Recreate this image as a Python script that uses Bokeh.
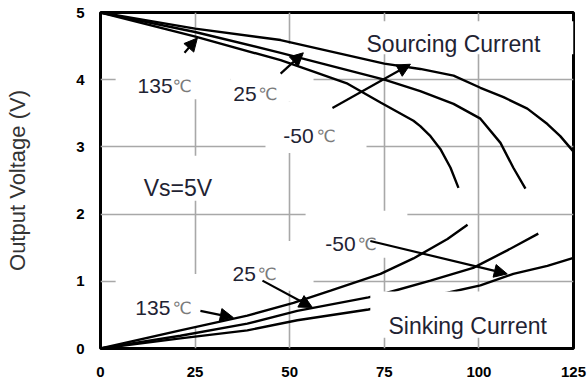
from bokeh.plotting import figure
from bokeh.models import Arrow, NormalHead, BoxAnnotation, Label, Range1d, FixedTicker
from bokeh.embed import file_html
from bokeh.resources import INLINE

# ---- data ----
x_ticks = [0, 25, 50, 75, 100, 125]
y_ticks = [0, 1, 2, 3, 4, 5]

# Sourcing current curves (output voltage high)
src_m50_x = [0, 25, 47.6, 75, 84.5, 93.3, 100.4, 106.5, 112.8, 118.1, 121.5, 125]
src_m50_y = [5.0, 4.76, 4.59, 4.24, 4.16, 4.06, 3.88, 3.74, 3.57, 3.34, 3.16, 2.93]
src_25_x = [0, 25, 47.6, 75, 84.5, 93.3, 100.4, 105.7, 109.1, 112.3]
src_25_y = [5.0, 4.71, 4.40, 4.00, 3.83, 3.64, 3.42, 3.06, 2.69, 2.38]
src_135_x = [0, 25.1, 47.6, 56.3, 65.3, 74, 82.7, 84.5, 87.2, 89.8, 92.5, 94.6]
src_135_y = [5.0, 4.64, 4.29, 4.12, 3.94, 3.66, 3.39, 3.31, 3.16, 2.97, 2.69, 2.39]

# Sinking current curves (output voltage low)
snk_135_x = [0, 21.1, 38.8, 51.0, 60.8, 74.0, 82.7, 91.7, 97.0]
snk_135_y = [0.0, 0.27, 0.49, 0.68, 0.86, 1.11, 1.34, 1.63, 1.84]
snk_25_x = [0, 21.1, 38.8, 52.0, 70.8, 75.8, 87.2, 98.5, 107.5, 115.7]
snk_25_y = [0.0, 0.19, 0.37, 0.56, 0.76, 0.83, 1.01, 1.20, 1.46, 1.71]
snk_m50_x = [0, 21.1, 38.8, 52.0, 70.8, 91.7, 100.4, 109.1, 118.1, 125]
snk_m50_y = [0.0, 0.15, 0.27, 0.42, 0.58, 0.83, 0.94, 1.11, 1.23, 1.35]

FONT = "Liberation Sans"

p = figure(width=587, height=381, output_backend="svg", toolbar_location=None,
           x_range=Range1d(0, 125), y_range=Range1d(0, 5),
           min_border_left=100, min_border_right=14, min_border_top=12, min_border_bottom=33)

p.outline_line_color = "black"
p.outline_line_width = 3
p.background_fill_color = "white"

for ax in (p.xaxis[0], p.yaxis[0]):
    ax.axis_line_color = None
    ax.major_tick_line_color = None
    ax.minor_tick_line_color = None
    ax.major_label_text_font = FONT
    ax.major_label_text_font_style = "bold"
    ax.major_label_text_font_size = "15px"
    ax.major_label_text_color = "black"

p.xaxis.ticker = FixedTicker(ticks=x_ticks)
p.yaxis.ticker = FixedTicker(ticks=y_ticks)
p.xaxis.major_label_standoff = 12
p.yaxis.major_label_standoff = 10

p.yaxis.axis_label = "Output Voltage (V)"
p.yaxis.axis_label_text_font = FONT
p.yaxis.axis_label_text_font_style = "normal"
p.yaxis.axis_label_text_font_size = "22px"
p.yaxis.axis_label_text_color = "#333333"
p.yaxis.axis_label_standoff = 43

p.xgrid.ticker = FixedTicker(ticks=[25, 50, 75, 100])
p.ygrid.ticker = FixedTicker(ticks=[1, 2, 3, 4])
for g in (p.xgrid[0], p.ygrid[0]):
    g.grid_line_color = "#a8a8a8"
    g.grid_line_width = 1.6

# white masks behind label areas (grid interrupted)
masks = [
    (4.0, 34.3, 3.71, 4.61),
    (34.3, 56.3, 3.68, 4.53),
    (43.6, 70.3, 2.91, 3.68),
    (6.6, 37.0, 2.20, 2.87),
    (4.0, 35.7, 0.31, 1.11),
    (35.7, 56.3, 0.86, 1.60),
    (54.2, 81.1, 1.35, 2.05),
    (67.4, 125, 4.38, 4.87),
]
for l, r, b, t in masks:
    p.add_layout(BoxAnnotation(left=l, right=r, bottom=b, top=t, fill_color="white",
                               fill_alpha=1, line_color=None, level="underlay"))

lw = 2.4
for xs, ys in [(src_m50_x, src_m50_y), (src_25_x, src_25_y), (src_135_x, src_135_y),
               (snk_135_x, snk_135_y), (snk_25_x, snk_25_y), (snk_m50_x, snk_m50_y)]:
    p.line(xs, ys, line_color="black", line_width=lw)

# box covering curves behind "Sinking Current"
p.add_layout(BoxAnnotation(left=71.3, right=124.6, bottom=0.16, top=0.85, fill_color="white",
                           fill_alpha=1, line_color=None))

arrows = [
    (22.2, 4.40, 25.6, 4.62),
    (47.6, 4.09, 53.6, 4.40),
    (61.3, 3.58, 81.9, 4.23),
    (26.4, 0.56, 35.1, 0.46),
    (42.8, 1.01, 56.0, 0.61),
    (71.3, 1.60, 107.5, 1.11),
]
for xs, ys, xe, ye in arrows:
    p.add_layout(Arrow(x_start=xs, y_start=ys, x_end=xe, y_end=ye, line_width=2.2,
                       line_color="black",
                       end=NormalHead(size=13, fill_color="black", line_color="black", line_width=1)))

num_color = "#1f2333"
deg_color = "#7a7a7a"
temp_labels = [
    ("135", 9.8, 3.908, 19.0),
    ("25", 35.1, 3.789, 41.7),
    ("-50", 48.3, 3.165, 57.1),
    ("-50", 59.4, 1.560, 67.9),
    ("25", 34.9, 1.114, 41.5),
    ("135", 9.2, 0.609, 19.0),
]
for txt, x, y, xd in temp_labels:
    p.add_layout(Label(x=x, y=y, text=txt, text_font=FONT, text_font_size="21px",
                       text_color=num_color, text_baseline="alphabetic", text_align="left"))
    p.add_layout(Label(x=xd, y=y, text="℃", text_font="DejaVu Sans", text_font_size="17px",
                       text_color=deg_color, text_baseline="alphabetic", text_align="left"))

for txt, x, y in [("Vs=5V", 11.4, 2.392), ("Sourcing Current", 70.3, 4.532),
                  ("Sinking Current", 76.1, 0.342)]:
    p.add_layout(Label(x=x, y=y, text=txt, text_font=FONT, text_font_size="23px",
                       text_color=num_color, text_baseline="alphabetic", text_align="left"))

open("out.html", "w").write(file_html(p, INLINE))
